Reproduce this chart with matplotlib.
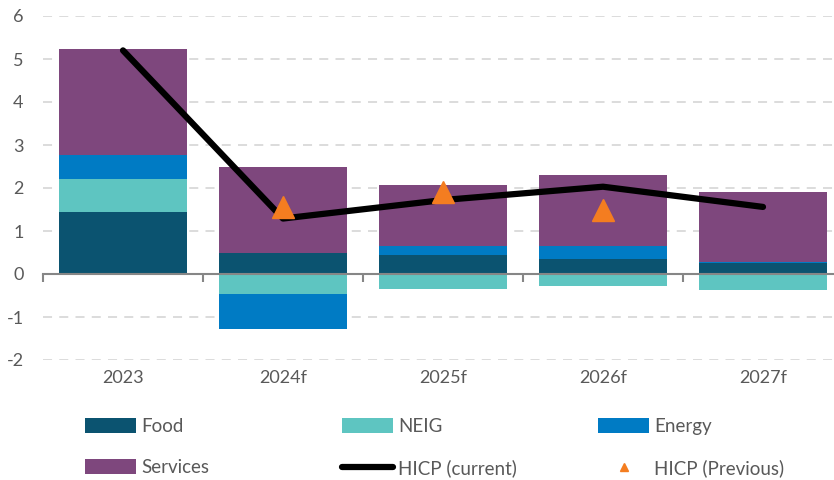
import matplotlib
matplotlib.use("Agg")
import matplotlib.pyplot as plt
import numpy as np
from matplotlib.patches import Patch
from matplotlib.lines import Line2D

plt.rcParams['font.family'] = ['Lato', 'DejaVu Sans']
plt.rcParams['axes.unicode_minus'] = False

categories = ["2023", "2024f", "2025f", "2026f", "2027f"]
food = [1.44, 0.50, 0.44, 0.36, 0.26]
neig = [0.78, -0.46, -0.36, -0.29, -0.38]
energy = [0.54, -0.82, 0.20, 0.29, 0.02]
services = [2.47, 2.00, 1.42, 1.66, 1.63]
hicp_current = [5.20, 1.29, 1.72, 2.03, 1.56]
hicp_previous = [np.nan, 1.56, 1.90, 1.50, np.nan]

c_food = "#0B5370"
c_neig = "#5EC5C1"
c_energy = "#007BC4"
c_serv = "#7E477D"
c_prev = "#F47D20"
c_text = "#595959"

fig = plt.figure(figsize=(8.34, 4.80), dpi=100)
ax = fig.add_axes([43/834, 120/480, 800/834, 344/480])

x = np.arange(len(categories))
w = 0.8
food_a = np.array(food); neig_a = np.array(neig); en_a = np.array(energy); sv_a = np.array(services)
series = [(food_a, c_food, "Food"), (neig_a, c_neig, "NEIG"), (en_a, c_energy, "Energy"), (sv_a, c_serv, "Services")]
pos_base = np.zeros(len(x)); neg_base = np.zeros(len(x))
for vals, col, lab in series:
    bottoms = np.where(vals >= 0, pos_base, neg_base)
    ax.bar(x, vals, w, bottom=bottoms, color=col, zorder=2, linewidth=0)
    pos_base = pos_base + np.where(vals >= 0, vals, 0)
    neg_base = neg_base + np.where(vals < 0, vals, 0)

ax.plot(x, hicp_current, color="black", lw=4.5, solid_capstyle="round", solid_joinstyle="round", zorder=3)
ax.plot(x, hicp_previous, linestyle="none", marker="^", color=c_prev, markersize=16, zorder=4)

ax.set_xlim(-0.5, 4.5)
ax.set_ylim(-2, 6)
ax.set_yticks(range(-2, 7))
ax.yaxis.grid(True, color="#D9D9D9", linestyle=(0, (5, 4)), lw=1.3, zorder=0)
ax.tick_params(axis="y", length=0, labelsize=13, labelcolor=c_text, pad=14)
for s in ["left", "right", "top"]:
    ax.spines[s].set_visible(False)
ax.spines["bottom"].set_position(("data", 0))
ax.spines["bottom"].set_color("#868686")
ax.spines["bottom"].set_linewidth(1.5)
ax.spines["bottom"].set_zorder(5)
ax.set_xticks(x)
ax.set_xticklabels([])
ax.tick_params(axis="x", which="major", length=0)
ax.set_xticks(np.arange(-0.5, 4.6, 1.0), minor=True)
ax.tick_params(axis="x", which="minor", length=6, width=1.5, color="#868686", direction="out")

sec = ax.secondary_xaxis(-0.02)
sec.set_xticks(x)
sec.set_xticklabels(categories)
sec.tick_params(length=0, labelsize=13, labelcolor=c_text, pad=2)
sec.spines["bottom"].set_visible(False)

h_food = Patch(facecolor=c_food, label="Food")
h_neig = Patch(facecolor=c_neig, label="NEIG")
h_en = Patch(facecolor=c_energy, label="Energy")
h_sv = Patch(facecolor=c_serv, label="Services")
h_cur = Line2D([], [], color="black", lw=4.5, solid_capstyle="round", label="HICP (current)")
h_prev = Line2D([], [], color=c_prev, marker="^", linestyle="none", markersize=6, label="HICP (Previous)")

cols = [([h_food, h_sv], 85), ([h_neig, h_cur], 342), ([h_en, h_prev], 598)]
for hs, px in cols:
    lg = fig.legend(handles=hs, loc="upper left", bbox_to_anchor=(px/834, 1 - 418/480),
                    frameon=False, fontsize=13.5, labelcolor=c_text, handlelength=2.74,
                    handleheight=0.85, handletextpad=0.25, labelspacing=1.3,
                    borderpad=0, borderaxespad=0)

fig.savefig("out.png", dpi=100)
